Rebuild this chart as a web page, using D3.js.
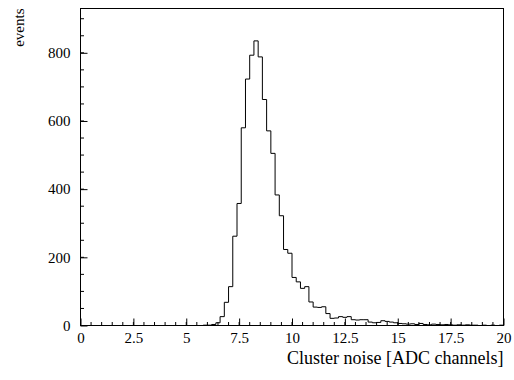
<!DOCTYPE html>
<html>
<head>
<meta charset="utf-8">
<script src="https://cdn.jsdelivr.net/npm/d3@7"></script>
<style>
  body { margin: 0; background: #fff; }
  text { font-family: "Liberation Serif", "DejaVu Serif", serif; font-size: 15px; fill: #000; }
</style>
</head>
<body>
<div id="graph"></div>
<script>
// Histogram bins: 100 bins of width 0.2 from 0 to 20
var binStart = 0, binWidth = 0.2;
var counts = [
  0, 0, 0, 0, 0, 0, 0, 0, 0, 0,
  0, 0, 0, 0, 0, 0, 0, 0, 0, 0,
  0, 0, 0, 0, 0, 0, 0, 0, 0, 1,
  1, 3, 8, 26, 68, 114, 262, 358, 580, 723,
  793, 835, 788, 663, 571, 505, 383, 322, 223, 212,
  141, 128, 109, 114, 69, 54, 53, 55, 35, 21,
  22, 26, 24, 26, 17, 16, 17, 17, 10, 8,
  9, 14, 12, 10, 8, 6, 5, 4, 5, 3,
  6, 3, 2, 4, 3, 2, 3, 2, 1, 2,
  1, 2, 1, 1, 0, 1, 0, 1, 0, 1
];

var xTicks = [0, 2.5, 5, 7.5, 10, 12.5, 15, 17.5, 20];
var xMinorTicks = d3.range(0, 20.01, 0.5);
var yTicks = [0, 200, 400, 600, 800];
var yMinorTicks = d3.range(0, 930, 50);

var xTitle = "Cluster noise [ADC channels]";
var yTitle = "events";

// Set the dimensions of the canvas / graph
var W = 514, H = 380;
var margin = { top: 8.5, right: 10.5, bottom: 54.5, left: 80.5 },
    width = W - margin.left - margin.right,
    height = H - margin.top - margin.bottom;

var x = d3.scaleLinear().domain([0, 20]).range([0, width]);
var y = d3.scaleLinear().domain([0, 930]).range([height, 0]);

var svg = d3.select("#graph")
    .append("svg")
        .attr("width", W)
        .attr("height", H)
    .append("g")
        .attr("transform", "translate(" + margin.left + "," + margin.top + ")");

// step outline of the histogram
var pts = [];
counts.forEach(function(c, i) {
    var x0 = binStart + i * binWidth;
    pts.push([x0, c]);
    pts.push([x0 + binWidth, c]);
});

var line = d3.line()
    .x(function(d) { return x(d[0]); })
    .y(function(d) { return y(d[1]); });

svg.append("path")
    .datum(pts)
    .attr("fill", "none")
    .attr("stroke", "#000")
    .attr("stroke-width", 1)
    .attr("d", line);

// X axis (ticks pointing inwards)
var xAxis = svg.append("g")
    .attr("transform", "translate(0," + height + ")")
    .call(d3.axisBottom(x).tickValues(xTicks).tickSize(-7).tickPadding(7)
        .tickFormat(function(d) { return String(d); }));
xAxis.select(".domain").remove();
xAxis.selectAll("text").attr("font-size", null).attr("font-family", null).attr("dy", "0.71em");

svg.append("g")
    .attr("transform", "translate(0," + height + ")")
    .selectAll("line")
    .data(xMinorTicks)
    .enter().append("line")
        .attr("x1", function(d) { return x(d); })
        .attr("x2", function(d) { return x(d); })
        .attr("y1", 0).attr("y2", -3.5)
        .attr("stroke", "#000");

// Y axis
var yAxis = svg.append("g")
    .call(d3.axisLeft(y).tickValues(yTicks).tickSize(-7).tickPadding(10));
yAxis.select(".domain").remove();
yAxis.selectAll("text").attr("font-size", null).attr("font-family", null);

svg.append("g")
    .selectAll("line")
    .data(yMinorTicks)
    .enter().append("line")
        .attr("x1", 0).attr("x2", 3.5)
        .attr("y1", function(d) { return y(d); })
        .attr("y2", function(d) { return y(d); })
        .attr("stroke", "#000");

// frame
svg.append("rect")
    .attr("width", width)
    .attr("height", height)
    .attr("fill", "none")
    .attr("stroke", "#000")
    .attr("stroke-width", 1);

// titles
svg.append("text")
    .attr("x", width)
    .attr("y", height + 38)
    .attr("text-anchor", "end")
    .style("font-size", "18px")
    .text(xTitle);

svg.append("text")
    .attr("transform", "translate(-57,0) rotate(-90)")
    .attr("text-anchor", "end")
    .text(yTitle);
</script>
</body>
</html>
